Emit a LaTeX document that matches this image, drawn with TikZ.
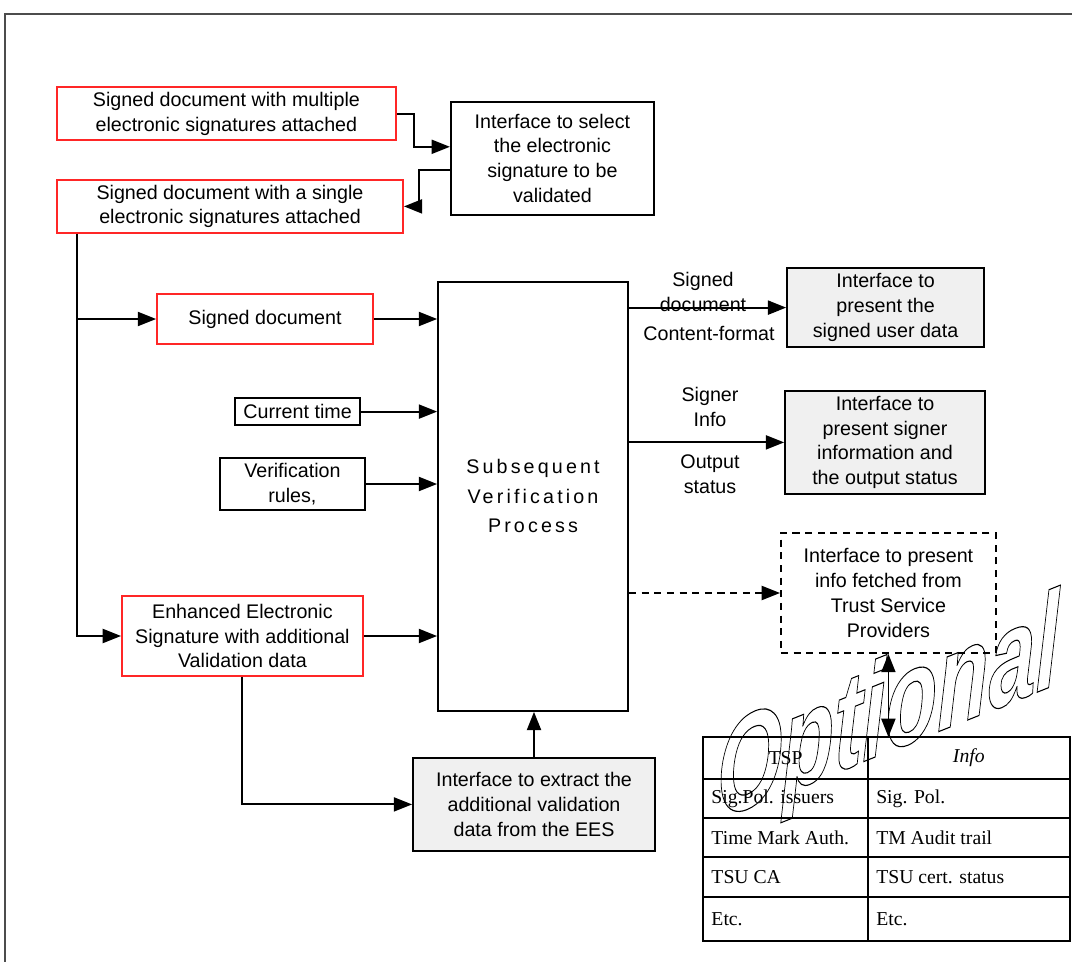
\documentclass[tikz,border=0pt]{standalone}
\usepackage{fontspec}
\setmainfont{Liberation Sans}
\newfontfamily\tabfont{Liberation Serif}
\usepackage{tikz}
\usetikzlibrary{positioning,arrows.meta}
\usepackage{xcolor}

\begin{document}
\begin{tikzpicture}[
		font=\fontsize{14}{17.7}\selectfont,
		box/.style={rectangle, draw, line width=1.3pt, align=center, inner sep=1pt},  % plain box
		redbox/.style={box, draw=red!85!white},  % input documents
		ifbox/.style={box, fill=gray!12},  % interfaces
		dash5/.style={dash pattern=on 5pt off 4pt},
		arrow/.style={-{Triangle[length=13pt,width=10pt]}, line width=1.3pt},
		lbl/.style={align=center, inner sep=0pt},
		cell/.style={anchor=west, inner sep=0pt, font=\tabfont\fontsize{14}{16}\selectfont}
		]
		\useasboundingbox (0,0) rectangle (26.8,-24.025);
		% outer frame
		\draw[gray!60!black, line width=2pt] (0.125,-24.2) -- (0.125,-0.35) -- (26.9,-0.35);
		% input documents on the left
		\node[redbox, minimum width=8.48cm, minimum height=1.33cm] (multi) at (5.66,-2.84) {Signed document with multiple\\electronic signatures attached};
		\node[redbox, minimum width=8.65cm, minimum height=1.33cm] (single) at (5.75,-5.16) {Signed document with a single\\electronic signatures attached};
		\node[box, minimum width=5.08cm, minimum height=2.83cm] (select) at (13.81,-3.96) {Interface to select\\the electronic\\signature to be\\validated};
		\node[redbox, minimum width=5.4cm, minimum height=1.25cm] (signdoc) at (6.625,-7.975) {Signed document};
		\node[box, minimum width=3.125cm, minimum height=0.675cm] (curtime) at (7.44,-10.29) {Current time};
		\node[box, minimum width=3.625cm, minimum height=1.3cm] (rules) at (7.31,-12.1) {Verification\\rules,};
		\node[redbox, minimum width=6.025cm, minimum height=2cm] (ees) at (6.06,-15.9) {Enhanced Electronic\\Signature with additional\\Validation data};
		% the process itself
		\node[box, minimum width=4.75cm, minimum height=10.725cm, font=\fontsize{14}{21}\selectfont\addfontfeature{LetterSpace=16}] (svp) at (13.325,-12.41) {Subsequent\\Verification\\Process};
		\node[ifbox, minimum width=6.05cm, minimum height=2.325cm] (extract) at (13.35,-20.11) {Interface to extract the\\additional validation\\data from the EES};
		% output interfaces on the right
		\node[ifbox, minimum width=4.925cm, minimum height=1.975cm] (userdata) at (22.14,-7.69) {Interface to\\present the\\signed user data};
		\node[ifbox, minimum width=5cm, minimum height=2.575cm] (signer) at (22.125,-11.06) {Interface to\\present signer\\information and\\the output status};
		\node[box, dash5, minimum width=5.375cm, minimum height=3cm] (tsp) at (22.21,-14.825) {Interface to present\\info fetched from\\Trust Service\\Providers};
		% labels of the outputs
		\node[lbl] (sdlbl) at (17.575,-7.29) {Signed\\document};
		\node[lbl] (cflbl) at (17.725,-8.325) {Content-format};
		\node[lbl] (silbl) at (17.75,-10.18) {Signer\\Info};
		\node[lbl] (oslbl) at (17.75,-11.85) {Output\\status};
		% selection of the signature
		\draw[arrow] (multi.east) -- ++(0.425,0) |- ([yshift=0.29cm]select.west);
		\draw[arrow] ([yshift=-0.29cm]select.west) -- ++(-0.775,0) |- (single.east);
		% inputs to the process
		\coordinate (trunk) at ([xshift=0.525cm]single.south west);
		\draw[arrow] (trunk) |- (signdoc.west);
		\draw[arrow] (trunk) |- (ees.west);
		\draw[arrow] (signdoc.east) -- (signdoc.east -| svp.west);
		\draw[arrow] (curtime.east) -- (curtime.east -| svp.west);
		\draw[arrow] (rules.east) -- (rules.east -| svp.west);
		\draw[arrow] (ees.east) -- (ees.east -| svp.west);
		\draw[arrow] (ees.south) |- (extract.west);
		\draw[arrow] (extract.north) -- (extract.north |- svp.south);
		% outputs of the process
		\draw[arrow] (userdata.west -| svp.east) -- (userdata.west);
		\draw[arrow] (signer.west -| svp.east) -- (signer.west);
		\draw[arrow, dash5] (tsp.west -| svp.east) -- (tsp.west);
		% table of the optional info
		\coordinate (tabtop) at (22.225,-18.425);
		\draw[{Triangle[length=13pt,width=10pt]}-{Triangle[length=13pt,width=10pt]}, line width=1.3pt] (tsp.south) -- (tsp.south |- tabtop);
		\draw[line width=2pt] (17.575,-18.425) rectangle (26.75,-23.525);
		\draw[line width=1.3pt] (17.575,-19.475) -- (26.75,-19.475)
			(17.575,-20.45) -- (26.75,-20.45)
			(17.575,-21.425) -- (26.75,-21.425)
			(17.575,-22.425) -- (26.75,-22.425)
			(21.7,-18.425) -- (21.7,-23.525);
		\node[cell, anchor=center] (thtsp) at (19.64,-18.95) {TSP};
		\node[cell, anchor=center] (thinfo) at (24.22,-18.95) {\itshape Info};
		\node[cell] (c11) at (17.78,-19.96) {Sig.Pol. issuers};
		\node[cell] (c12) at (21.9,-19.96) {Sig. Pol.};
		\node[cell] (c21) at (17.78,-20.94) {Time Mark Auth.};
		\node[cell] (c22) at (21.9,-20.94) {TM Audit trail};
		\node[cell] (c31) at (17.78,-21.925) {TSU CA};
		\node[cell] (c32) at (21.9,-21.925) {TSU cert. status};
		\node[cell] (c41) at (17.78,-22.975) {Etc.};
		\node[cell] (c42) at (21.9,-22.975) {Etc.};
		% watermark
		\node[font=\fontsize{60}{60}\selectfont\bfseries\itshape, yslant=0.4, yscale=1.6] (optional) at (22.2,-17.925) {\special{pdf:literal direct 1 Tr 0.5 w}Optional\special{pdf:literal direct 0 Tr}};
	\end{tikzpicture}
\end{document}
